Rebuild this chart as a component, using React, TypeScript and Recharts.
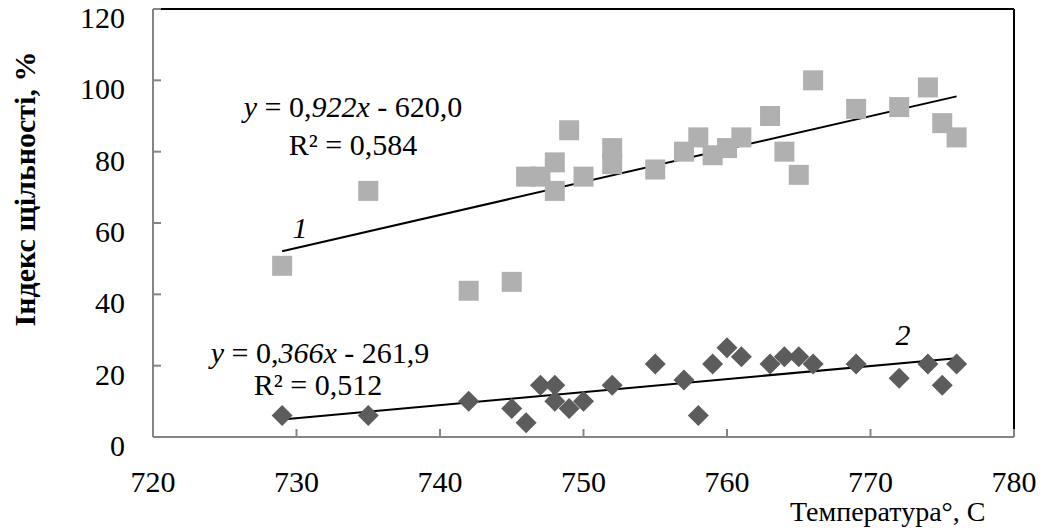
import { ScatterChart, Scatter, XAxis, YAxis, ReferenceLine } from "recharts";

// температура, °C / індекс щільності, %
const temp1 = [729, 735, 742, 745, 746, 747, 748, 748, 749, 750, 752, 752, 755, 757, 758, 759, 760, 761, 763, 764, 765, 766, 769, 772, 774, 775, 776];
const density1 = [48, 69, 41, 43.5, 73, 73, 77, 69, 86, 73, 81, 76.5, 75, 80, 84, 79, 81, 84, 90, 80, 73.5, 100, 92, 92.5, 98, 88, 84];

const temp2 = [729, 735, 742, 745, 746, 747, 748, 748, 749, 750, 752, 755, 757, 758, 759, 760, 761, 763, 764, 765, 766, 769, 772, 774, 775, 776];
const density2 = [6, 6, 10, 8, 4, 14.5, 14.5, 10, 8, 10, 14.5, 20.5, 16, 6, 20.5, 25, 22.5, 20.5, 22.5, 22.5, 20.5, 20.5, 16.5, 20.5, 14.5, 20.5];

// кінці ліній тренду
const trend1 = [{ x: 729, y: 52.1 }, { x: 776, y: 95.5 }];
const trend2 = [{ x: 729, y: 4.9 }, { x: 776, y: 22.1 }];

const xTicks = [720, 730, 740, 750, 760, 770, 780];
const yTicks = [0, 20, 40, 60, 80, 100, 120];

const FONT = "Liberation Serif, DejaVu Serif, serif";
const AXIS_GRAY = "#858585";

const points1 = temp1.map((x, i) => ({ x, y: density1[i] }));
const points2 = temp2.map((x, i) => ({ x, y: density2[i] }));

// eslint-disable-next-line @typescript-eslint/no-explicit-any
const Square = ({ cx, cy }: any) => (
  <rect x={cx - 10} y={cy - 10} width={20} height={20} fill="#b0b0b0" />
);

// eslint-disable-next-line @typescript-eslint/no-explicit-any
const Diamond = ({ cx, cy }: any) => (
  <polygon
    points={`${cx},${cy - 10.5} ${cx + 10.5},${cy} ${cx},${cy + 10.5} ${cx - 10.5},${cy}`}
    fill="#5c5c5c"
  />
);

// eslint-disable-next-line @typescript-eslint/no-explicit-any
const YTick = ({ x, y, payload }: any) => (
  <g>
    <line x1={x} x2={x + 8} y1={y} y2={y} stroke={AXIS_GRAY} strokeWidth={2} />
    <text x={x - 28} y={y + 19} textAnchor="end" style={{ fontFamily: FONT, fontSize: 30 }} fill="#000">
      {payload.value}
    </text>
  </g>
);

// eslint-disable-next-line @typescript-eslint/no-explicit-any
const XTick = ({ x, y, payload }: any) => (
  <g>
    <line x1={x} x2={x} y1={y} y2={y - 8} stroke={AXIS_GRAY} strokeWidth={2} />
    <text x={x} y={y + 55} textAnchor="middle" style={{ fontFamily: FONT, fontSize: 30 }} fill="#000">
      {payload.value}
    </text>
  </g>
);

const txt = { fontFamily: FONT, fontSize: 30 };

export default function App() {
  return (
    <div style={{ position: "absolute", left: 0, top: 0, width: 1046, height: 528, background: "#fff", fontFamily: FONT }}>
      <ScatterChart
        width={1046}
        height={528}
        margin={{ top: 9, right: 32, left: 0, bottom: 0 }}
      >
        <XAxis
          type="number"
          dataKey="x"
          domain={[720, 780]}
          ticks={xTicks}
          height={91}
          tickSize={0}
          tickMargin={0}
          tickLine={false}
          tick={<XTick />}
          axisLine={{ stroke: AXIS_GRAY, strokeWidth: 2 }}
        />
        <YAxis
          type="number"
          dataKey="y"
          domain={[0, 120]}
          ticks={yTicks}
          width={153}
          tickSize={0}
          tickMargin={0}
          tickLine={false}
          tick={<YTick />}
          axisLine={{ stroke: AXIS_GRAY, strokeWidth: 2 }}
        />
        <ReferenceLine y={120} stroke="#000" strokeWidth={2} />
        <ReferenceLine x={780} stroke="#000" strokeWidth={2} />

        <Scatter data={points1} shape={<Square />} isAnimationActive={false} />
        <Scatter data={points2} shape={<Diamond />} isAnimationActive={false} />

        <ReferenceLine segment={trend1} stroke="#000" strokeWidth={2} />
        <ReferenceLine segment={trend2} stroke="#000" strokeWidth={2} />
      </ScatterChart>

      <svg
        width={1046}
        height={528}
        style={{ position: "absolute", left: 0, top: 0, pointerEvents: "none" }}
        fill="#000"
      >
        <text
          x={35}
          y={189}
          transform="rotate(-90 35 189)"
          textAnchor="middle"
          style={{ ...txt, fontWeight: "bold" }}
        >
          Індекс щільності, %
        </text>
        <text x={790} y={521} style={{ ...txt, fontSize: 28 }}>
          Температура°, С
        </text>

        <text x={353} y={117} textAnchor="middle" style={txt}>
          <tspan fontStyle="italic">y</tspan> = 0,<tspan fontStyle="italic">922x</tspan> - 620,0
        </text>
        <text x={353} y={155} textAnchor="middle" style={txt}>
          R² = 0,584
        </text>
        <text x={300} y={238} textAnchor="middle" style={{ ...txt, fontStyle: "italic" }}>
          1
        </text>

        <text x={320} y={363} textAnchor="middle" style={txt}>
          <tspan fontStyle="italic">y</tspan> = 0,<tspan fontStyle="italic">366x</tspan> - 261,9
        </text>
        <text x={318} y={395} textAnchor="middle" style={txt}>
          R² = 0,512
        </text>
        <text x={903} y={345} textAnchor="middle" style={{ ...txt, fontStyle: "italic" }}>
          2
        </text>
      </svg>
    </div>
  );
}
